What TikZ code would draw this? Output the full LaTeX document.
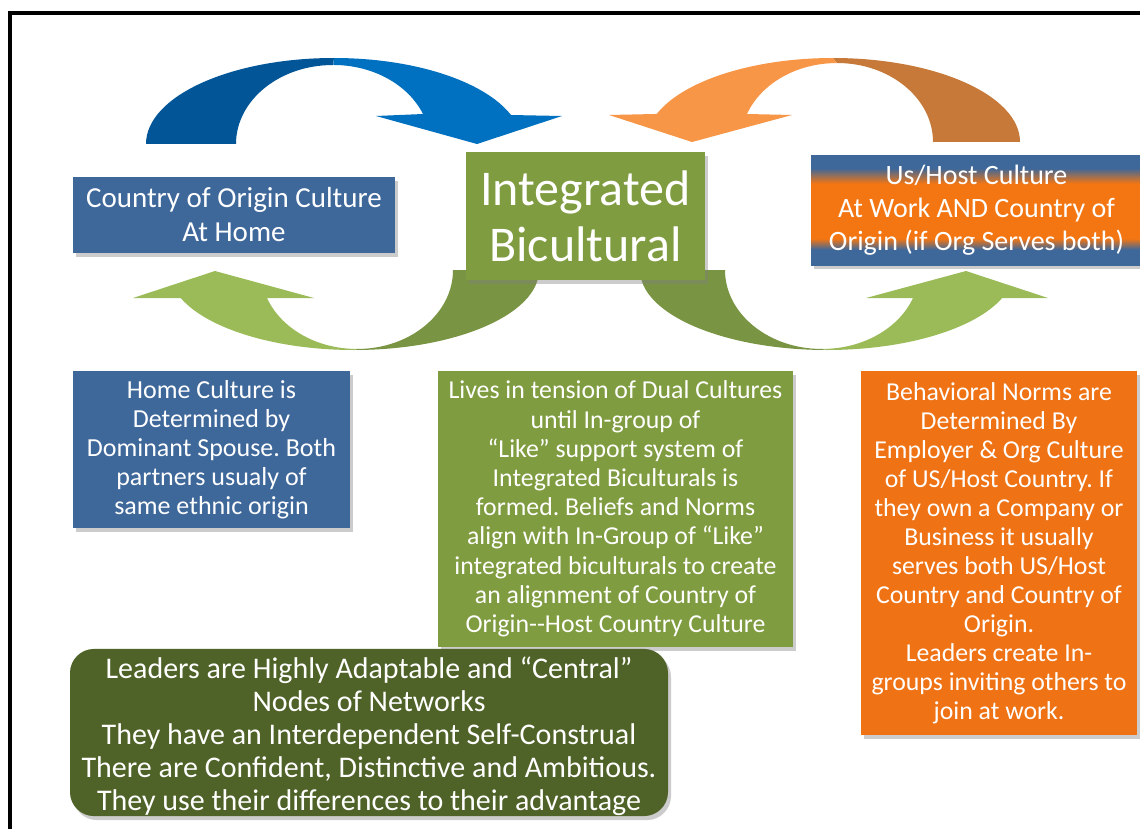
\documentclass[tikz,border=0pt]{standalone}
\usepackage{fontspec}
\setmainfont{Carlito}
\usetikzlibrary{shadows}
\frenchspacing
\definecolor{bluedark}{RGB}{2,86,152}
\definecolor{bluelight}{RGB}{0,112,192}
\definecolor{orangelight}{RGB}{247,150,70}
\definecolor{orangedark}{RGB}{198,121,56}
\definecolor{greendark}{RGB}{121,148,66}
\definecolor{greenlight}{RGB}{155,187,89}
\definecolor{boxblue}{RGB}{62,103,154}
\definecolor{boxgreen}{RGB}{128,156,64}
\definecolor{boxorange}{RGB}{239,114,20}
\definecolor{hostorange}{RGB}{243,118,18}
\definecolor{leadgreen}{RGB}{79,98,40}
\pgfdeclareverticalshading{hostband}{100bp}{color(0bp)=(boxblue); color(32bp)=(boxblue); color(37bp)=(hostorange); color(62bp)=(hostorange); color(69bp)=(boxblue); color(100bp)=(boxblue)}
\begin{document}
\begin{tikzpicture}[x=0.5pt, y=-0.5pt,
    box/.style={shape=rectangle, align=center, inner sep=0pt, text=white,
      drop shadow={shadow xshift=1.5pt, shadow yshift=-2pt, opacity=0.4}},
    bluebox/.style={box, fill=boxblue},
    greenbox/.style={box, fill=boxgreen},
    orangebox/.style={box, fill=boxorange}]
  \useasboundingbox (0,0) rectangle (1140,829);
  \fill[white] (0,0) rectangle (1140,829);
  \clip (0,0) rectangle (1140,829);

  % curved arrows, drawn first so the boxes sit on top
  \fill[bluedark] (146,144) arc[start angle=180, end angle=270, x radius=188, y radius=86]
    -- (333,65) arc[start angle=270, end angle=180, x radius=97, y radius=79] -- cycle;
  \fill[bluelight] (334,58) arc[start angle=270, end angle=340.3, x radius=188, y radius=86]
    -- (562,116) -- (477,144) -- (376,116) -- (423,114)
    arc[start angle=337.7, end angle=270, x radius=97, y radius=79] -- cycle;

  \fill[orangedark] (1020,142) arc[start angle=360, end angle=270, x radius=187, y radius=84]
    -- (837,63) arc[start angle=270, end angle=360, x radius=96, y radius=79] -- cycle;
  \fill[orangelight] (833,58) arc[start angle=270, end angle=199.5, x radius=187, y radius=84]
    -- (609,115) -- (692,142) -- (792,115) -- (747,114)
    arc[start angle=200.8, end angle=270, x radius=96, y radius=79] -- cycle;

  \fill[greendark] (539,270) arc[start angle=0, end angle=90, x radius=185, y radius=80]
    -- (357,349) arc[start angle=90, end angle=0, x radius=96, y radius=79] -- cycle;
  \fill[greenlight] (354,350) arc[start angle=90, end angle=159.5, x radius=185, y radius=80]
    -- (133,298) -- (215,271) -- (314,298) -- (267,298)
    arc[start angle=159.2, end angle=90, x radius=96, y radius=79] -- cycle;

  \fill[greendark] (640,270) arc[start angle=180, end angle=90, x radius=187, y radius=80]
    -- (822,349) arc[start angle=90, end angle=180, x radius=97, y radius=79] -- cycle;
  \fill[greenlight] (827,350) arc[start angle=90, end angle=20.5, x radius=187, y radius=80]
    -- (1048,298) -- (966,271) -- (866,298) -- (913,298)
    arc[start angle=20.8, end angle=90, x radius=97, y radius=79] -- cycle;

  % boxes
  \node (c1)[bluebox, minimum width=161pt, minimum height=38pt,
    font=\fontsize{14.5}{17}\selectfont]
    at (234,215) {Country of Origin Culture\\At Home};

  \node (c2)[greenbox, minimum width=119.5pt, minimum height=64pt,
    font=\fontsize{25}{28}\selectfont]
    at (585.5,216) {Integrated\\Bicultural};

  \node (c3)[box, shading=hostband, minimum width=165.5pt, minimum height=55pt,
    font=\fontsize{14}{16.5}\selectfont]
    at (976.5,210) {Us/Host Culture\\At Work AND Country of\\Origin (if Org Serves both)};

  \node (c4)[bluebox, minimum width=138.5pt, minimum height=78.5pt,
    font=\fontsize{13}{14.5}\selectfont]
    at (211.5,449.5) {Home Culture is\\Determined by\\Dominant Spouse. Both\\partners usualy of\\same ethnic origin};

  \node (c5)[greenbox, minimum width=177.5pt, minimum height=138pt,
    font=\fontsize{12.9}{14.6}\selectfont]
    at (615.5,509) {Lives in tension of Dual Cultures\\until In-group of\\“Like” support system of\\Integrated Biculturals is\\formed. Beliefs and Norms\\align with In-Group of “Like”\\integrated biculturals to create\\an alignment of Country of\\Origin-{}-Host Country Culture};

  \node (c6)[orangebox, minimum width=138pt, minimum height=182pt,
    font=\fontsize{12.9}{14.5}\selectfont]
    at (999,553) {Behavioral Norms are\\Determined By\\Employer \& Org Culture\\of US/Host Country. If\\they own a Company or\\Business it usually\\serves both US/Host\\Country and Country of\\Origin.\\Leaders create In-\\groups inviting others to\\join at work.};

  \node (c7)[box, fill=leadgreen, rounded corners=12pt, minimum width=299pt, minimum height=79.5pt,
    font=\fontsize{15}{16.5}\selectfont]
    at (369,732.5) {\rule{0pt}{15pt}Leaders are Highly Adaptable and “Central”\\Nodes of Networks\\They have an Interdependent Self-Construal\\There are Confident, Distinctive and Ambitious.\\They use their differences to their advantage};

  % frame
  \draw[line width=2pt] (1145,13) -- (10,13) -- (10,835);
\end{tikzpicture}
\end{document}
